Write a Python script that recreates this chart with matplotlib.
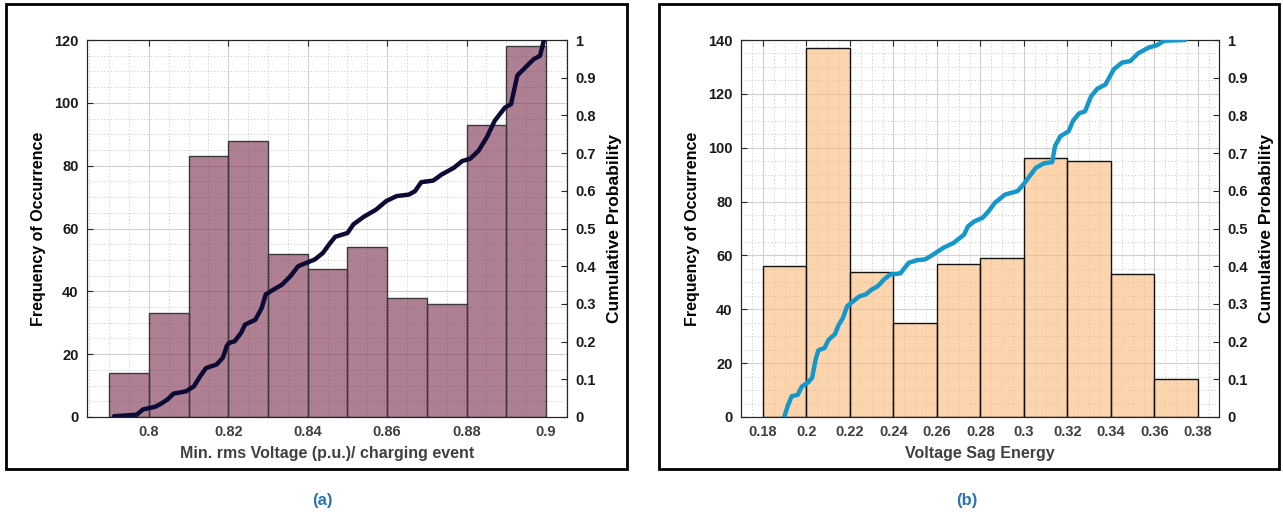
import numpy as np
import matplotlib.pyplot as plt
from matplotlib.patches import Rectangle
from matplotlib.ticker import MultipleLocator
from matplotlib.colors import to_rgba

plt.rcParams['font.family'] = ['Liberation Sans', 'DejaVu Sans']

# (a) minimum rms voltage histogram
a_edges = [0.79, 0.80, 0.81, 0.82, 0.83, 0.84, 0.85, 0.86, 0.87, 0.88, 0.89, 0.90]
a_counts = [14, 33, 83, 88, 52, 47, 54, 38, 36, 93, 118]
a_cdf_x = [0.7912, 0.7969, 0.7985, 0.8015, 0.8030, 0.8046, 0.8062, 0.8093, 0.8113, 0.8129,
           0.8144, 0.8170, 0.8186, 0.8196, 0.8201, 0.8216, 0.8232, 0.8242, 0.8268, 0.8284,
           0.8294, 0.8314, 0.8335, 0.8356, 0.8376, 0.8397, 0.8418, 0.8438, 0.8454, 0.8469,
           0.8500, 0.8515, 0.8541, 0.8572, 0.8598, 0.8624, 0.8655, 0.8670, 0.8686, 0.8716,
           0.8737, 0.8768, 0.8789, 0.8809, 0.8830, 0.8851, 0.8871, 0.8897, 0.8912, 0.8928,
           0.8948, 0.8969, 0.8985, 0.8995]
a_cdf_y = [0.002, 0.006, 0.020, 0.027, 0.035, 0.046, 0.062, 0.068, 0.081, 0.108,
           0.130, 0.139, 0.157, 0.188, 0.196, 0.201, 0.223, 0.245, 0.258, 0.289,
           0.325, 0.338, 0.351, 0.373, 0.400, 0.409, 0.418, 0.435, 0.458, 0.478,
           0.488, 0.511, 0.531, 0.550, 0.573, 0.586, 0.590, 0.599, 0.623, 0.627,
           0.643, 0.661, 0.679, 0.685, 0.706, 0.742, 0.786, 0.821, 0.830, 0.906,
           0.927, 0.949, 0.958, 1.000]
a_xticks = [0.8, 0.82, 0.84, 0.86, 0.88, 0.9]
a_xlabels = ['0.8', '0.82', '0.84', '0.86', '0.88', '0.9']
a_yticks = [0, 20, 40, 60, 80, 100, 120]

# (b) voltage sag energy histogram
b_edges = [0.18, 0.20, 0.22, 0.24, 0.26, 0.28, 0.30, 0.32, 0.34, 0.36, 0.38]
b_counts = [56, 137, 54, 35, 57, 59, 96, 95, 53, 14]
b_cdf_x = [0.1898, 0.1913, 0.1932, 0.1960, 0.1979, 0.2008, 0.2026, 0.2042, 0.2055, 0.2083,
           0.2102, 0.2130, 0.2149, 0.2168, 0.2187, 0.2215, 0.2243, 0.2272, 0.2300, 0.2328,
           0.2357, 0.2385, 0.2432, 0.2470, 0.2508, 0.2545, 0.2583, 0.2630, 0.2677, 0.2725,
           0.2743, 0.2772, 0.2809, 0.2838, 0.2866, 0.2913, 0.2970, 0.2998, 0.3026, 0.3055,
           0.3092, 0.3130, 0.3143, 0.3168, 0.3206, 0.3225, 0.3253, 0.3281, 0.3309, 0.3338,
           0.3375, 0.3413, 0.3451, 0.3489, 0.3526, 0.3574, 0.3611, 0.3645, 0.3743]
b_cdf_y = [0.000, 0.028, 0.055, 0.059, 0.081, 0.092, 0.104, 0.152, 0.177, 0.183,
           0.205, 0.219, 0.245, 0.263, 0.294, 0.307, 0.320, 0.325, 0.338, 0.347,
           0.365, 0.378, 0.381, 0.409, 0.416, 0.418, 0.431, 0.449, 0.462, 0.484,
           0.506, 0.519, 0.528, 0.546, 0.568, 0.590, 0.599, 0.617, 0.639, 0.661,
           0.673, 0.676, 0.719, 0.745, 0.758, 0.785, 0.805, 0.811, 0.851, 0.871,
           0.882, 0.922, 0.940, 0.944, 0.965, 0.980, 0.986, 0.998, 1.000]
b_xticks = [0.18, 0.2, 0.22, 0.24, 0.26, 0.28, 0.3, 0.32, 0.34, 0.36, 0.38]
b_xlabels = ['0.18', '0.2', '0.22', '0.24', '0.26', '0.28', '0.3', '0.32', '0.34', '0.36', '0.38']
b_yticks = [0, 20, 40, 60, 80, 100, 120, 140]

p_ticks = [0, 0.1, 0.2, 0.3, 0.4, 0.5, 0.6, 0.7, 0.8, 0.9, 1]
p_labels = ['0', '0.1', '0.2', '0.3', '0.4', '0.5', '0.6', '0.7', '0.8', '0.9', '1']

W, H = 1283, 517
fig = plt.figure(figsize=(W / 100, H / 100), dpi=100)


def panel(rect, edges, counts, cx, cy, xticks, xlabels, yticks, xlim, xlabel,
          barcolor, edgecolor, linecolor):
    ax = fig.add_axes(rect)
    ax.bar(edges[:-1], counts, width=np.diff(edges), align='edge',
           facecolor=to_rgba(barcolor, 0.6), edgecolor=edgecolor, linewidth=1.0, zorder=2)
    ax.set_xlim(xlim)
    ax.set_ylim(yticks[0], yticks[-1])
    ax.set_xticks(xticks)
    ax.set_xticklabels(xlabels, color='#404040', fontsize=10.5, fontweight='bold')
    ax.set_yticks(yticks)
    ax.set_yticklabels([str(v) for v in yticks], color='#1a1a1a', fontsize=10.5,
                       fontweight='bold')
    ax.xaxis.set_minor_locator(MultipleLocator(0.005))
    ax.yaxis.set_minor_locator(MultipleLocator(5))
    ax.tick_params(which='both', direction='in', top=True, right=False, length=4,
                   width=0.8, color='#262626', pad=6)
    ax.tick_params(which='minor', length=0)
    ax.grid(which='major', color='#d0d0d0', linewidth=0.8, zorder=0)
    ax.grid(which='minor', color='#c8c8c8', linewidth=0.6, linestyle=(0, (1.5, 2.5)), zorder=0)
    ax.set_axisbelow(True)
    for s in ax.spines.values():
        s.set_color('#262626')
        s.set_linewidth(0.8)
    ax.set_xlabel(xlabel, color='#404040', fontsize=11.5, fontweight='bold', labelpad=5)
    ax.set_ylabel('Frequency of Occurrence', color='black', fontsize=11.5,
                  fontweight='bold', labelpad=6)

    ax2 = ax.twinx()
    ax2.plot(cx, cy, color=linecolor, linewidth=3.2, solid_capstyle='round',
             solid_joinstyle='round', zorder=3)
    ax2.set_ylim(0, 1)
    ax2.set_yticks(p_ticks)
    ax2.set_yticklabels(p_labels, color='#1a1a1a', fontsize=10.5, fontweight='bold')
    ax2.tick_params(direction='in', length=4, width=0.8, color='#262626', pad=6)
    ax2.set_ylabel('Cumulative Probability', color='black', fontsize=12.5,
                   fontweight='bold', labelpad=8)
    for s in ax2.spines.values():
        s.set_color('#262626')
        s.set_linewidth(0.8)
    return ax, ax2


panel([87 / W, 1 - 417 / H, 480 / W, 377 / H], a_edges, a_counts, a_cdf_x, a_cdf_y,
      a_xticks, a_xlabels, a_yticks, (0.7844, 0.9053),
      'Min. rms Voltage (p.u.)/ charging event', '#7b2a4d', '#3a3a3a', '#0b0b36')
panel([741 / W, 1 - 417 / H, 478 / W, 377 / H], b_edges, b_counts, b_cdf_x, b_cdf_y,
      b_xticks, b_xlabels, b_yticks, (0.1699, 0.3897),
      'Voltage Sag Energy', '#fbb97b', '#111111', '#1597c9')

# panel frames
for x0, x1 in [(6, 627), (659, 1279)]:
    fig.patches.append(Rectangle((x0 / W, 1 - 469 / H), (x1 - x0) / W, 465 / H,
                                 transform=fig.transFigure, fill=False,
                                 edgecolor='black', linewidth=2))

fig.text(322 / W, 1 - 500 / H, '(a)', color='#2a72b0', fontsize=12, fontweight='bold',
         ha='center', va='center')
fig.text(967 / W, 1 - 500 / H, '(b)', color='#2a72b0', fontsize=12, fontweight='bold',
         ha='center', va='center')

fig.savefig('out.png', dpi=100)
